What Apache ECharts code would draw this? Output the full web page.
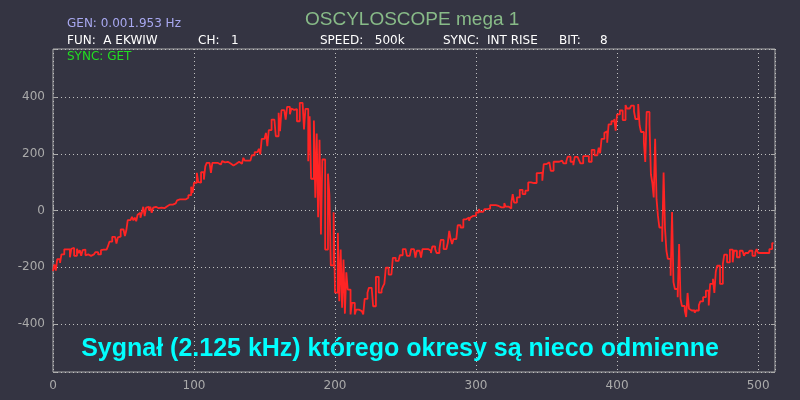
<!DOCTYPE html>
<html>
<head>
<meta charset="utf-8">
<script src="https://cdn.jsdelivr.net/npm/echarts@6/dist/echarts.min.js"></script>
<style>
html, body { margin: 0; padding: 0; background: #343442; }
#box1 { width: 800px; height: 400px; }
</style>
</head>
<body>
<div id="box1"></div>
<script>
var dom = document.getElementById("box1");
var myChart = echarts.init(dom);

var signal = [
-214,-190,-212,-172,-172,-185,-155,-155,-137,-137,-137,-137,-165,-135,-132,-160,
-160,-135,-150,-140,-160,-140,-138,-158,-155,-160,-160,-158,-155,-160,-147,-147,
-155,-155,-140,-138,-138,-138,-136,-126,-110,-110,-93,-93,-93,-117,-95,-92,
-67,-67,-67,-90,-70,-34,-34,-34,-22,-35,-25,-38,-15,-8,-26,-8,
13,-20,10,13,0,13,-8,10,13,13,8,6,10,13,8,15,
15,21,21,21,21,25,25,25,36,39,39,39,36,39,39,45,
54,54,84,62,98,98,133,100,98,135,135,109,156,168,168,168,
133,168,168,168,168,162,162,159,174,170,168,172,170,166,170,159,
159,165,159,172,172,165,165,186,176,176,178,176,176,195,195,206,
206,200,218,198,253,253,253,274,227,284,284,321,321,321,262,262,
345,280,354,354,354,321,366,366,340,360,355,360,358,315,315,380,
380,380,286,359,359,174,333,112,112,318,45,272,-24,250,-85,180,
180,-138,-138,130,56,-194,-194,-6,-290,-290,-79,-320,-138,-343,-173,-364,
-218,-279,-279,-367,-326,-326,-367,-350,-350,-355,-355,-355,-367,-312,-312,-290,
-273,-273,-273,-338,-338,-234,-234,-290,-290,-280,-268,-258,-202,-202,-226,-226,
-226,-167,-167,-178,-178,-178,-158,-158,-136,-136,-136,-160,-160,-160,-136,-136,
-136,-166,-142,-142,-142,-166,-136,-136,-136,-136,-136,-142,-150,-127,-127,-136,
-150,-150,-136,-104,-104,-136,-136,-136,-113,-72,-101,-118,-101,-101,-101,-52,
-52,-60,-60,-31,-31,-31,-25,-36,-25,-19,-19,-19,-7,-7,5,-5,
-5,-5,5,5,7,7,19,19,19,19,19,16,16,11,11,11,
26,14,14,7,7,28,58,28,28,46,46,73,73,58,58,70,
70,99,99,97,97,97,97,132,132,134,134,105,164,164,164,170,
170,140,140,172,172,172,172,168,176,176,166,166,174,190,190,172,
172,160,189,189,189,178,166,166,192,192,192,192,172,172,214,214,
195,195,195,222,202,253,253,274,280,239,304,304,315,315,323,282,
339,339,353,353,319,319,372,360,360,355,370,370,350,323,323,376,
300,277,277,241,171,348,348,304,128,98,46,253,40,-19,-60,-60,
-110,134,-63,-142,-171,-171,-230,-5,-253,-277,-277,-306,-118,-312,-337,-337,
-353,-376,-291,-347,-353,-353,-353,-361,-353,-353,-335,-321,-321,-306,-306,-283,
-283,-335,-259,-259,-241,-291,-216,-195,-195,-259,-259,-189,-156,-156,-183,-183,
-138,-138,-183,-142,-142,-165,-165,-142,-142,-142,-160,-150,-150,-150,-142,-142,
-160,-160,-148,-136,-150,-150,-150,-150,-150,-150,-150,-150,-136,-136,-115,-115
];

var xTicks = [0, 100, 200, 300, 400, 500];
var yTicks = [-400, -200, 0, 200, 400];

var headerLines = [
    { text: "GEN: 0.001.953 Hz", x: 67, y: 25, color: "#a8a8f0" },
    { text: "FUN:  A EKWIW", x: 67, y: 42, color: "#ffffff" },
    { text: "CH:   1", x: 198, y: 42, color: "#ffffff" },
    { text: "SPEED:   500k", x: 320, y: 42, color: "#ffffff" },
    { text: "SYNC:  INT RISE", x: 443, y: 42, color: "#ffffff" },
    { text: "BIT:     8", x: 559, y: 42, color: "#ffffff" },
    { text: "SYNC: GET", x: 67, y: 58, color: "#22dd22" }
];

var seriesData = signal.map(function(v, i) { return [i, v]; });

var graphics = headerLines.map(function(h) {
    return {
        type: "text",
        left: h.x,
        top: h.y - 7,
        style: {
            text: h.text,
            fill: h.color,
            font: "12px 'DejaVu Sans'"
        },
        z: 10
    };
});
graphics.push({
    type: "text",
    left: 305,
    top: 10,
    style: {
        text: "OSCYLOSCOPE mega 1",
        fill: "#88bb88",
        font: "19px 'Liberation Sans'"
    },
    z: 10
});
graphics.push({
    type: "text",
    left: "center",
    top: 337,
    style: {
        text: "Sygnał (2.125 kHz) którego okresy są nieco odmienne",
        fill: "#00ffff",
        font: "bold 25px 'Liberation Sans'"
    },
    z: 10
});

var gridLine = { show: true, lineStyle: { color: "#c0c0c0", type: [1, 3], width: 1 } };

option = {
    backgroundColor: "#343442",
    animation: false,
    grid: {
        left: 53,
        right: 25,
        top: 49,
        bottom: 28,
        show: true,
        borderColor: "#aaaaaa",
        borderWidth: 1,
        containLabel: false
    },
    graphic: graphics,
    xAxis: [{
        type: "value",
        min: 0,
        max: 512,
        interval: 100,
        axisLine: { show: false },
        axisTick: { show: true, inside: true, length: 4, lineStyle: { color: "#aaaaaa" } },
        axisLabel: {
            color: "#aaaaaa",
            fontSize: 12,
            fontFamily: "DejaVu Sans",
            margin: 8,
            formatter: function(v) { return xTicks.indexOf(v) >= 0 ? String(v) : ""; }
        },
        splitLine: gridLine
    }],
    yAxis: [{
        type: "value",
        min: -570,
        max: 570,
        splitNumber: 5,
        axisLine: { show: false },
        axisTick: { show: true, inside: true, length: 4, lineStyle: { color: "#aaaaaa" } },
        axisLabel: {
            color: "#aaaaaa",
            fontSize: 12,
            fontFamily: "DejaVu Sans",
            margin: 8,
            formatter: function(v) { return yTicks.indexOf(v) >= 0 ? String(v) : ""; }
        },
        splitLine: gridLine
    }, {
        type: "value",
        min: -570,
        max: 570,
        splitNumber: 5,
        position: "right",
        axisLine: { show: false },
        axisTick: { show: true, inside: true, length: 4, lineStyle: { color: "#aaaaaa" } },
        axisLabel: { show: false },
        splitLine: { show: false }
    }],
    series: [{
        type: "line",
        step: "end",
        data: seriesData,
        symbol: "none",
        lineStyle: { color: "#ff2424", width: 1.8 },
        silent: true
    }]
};

if (option && typeof option === "object") {
    myChart.setOption(option, true);
}
</script>
</body>
</html>
